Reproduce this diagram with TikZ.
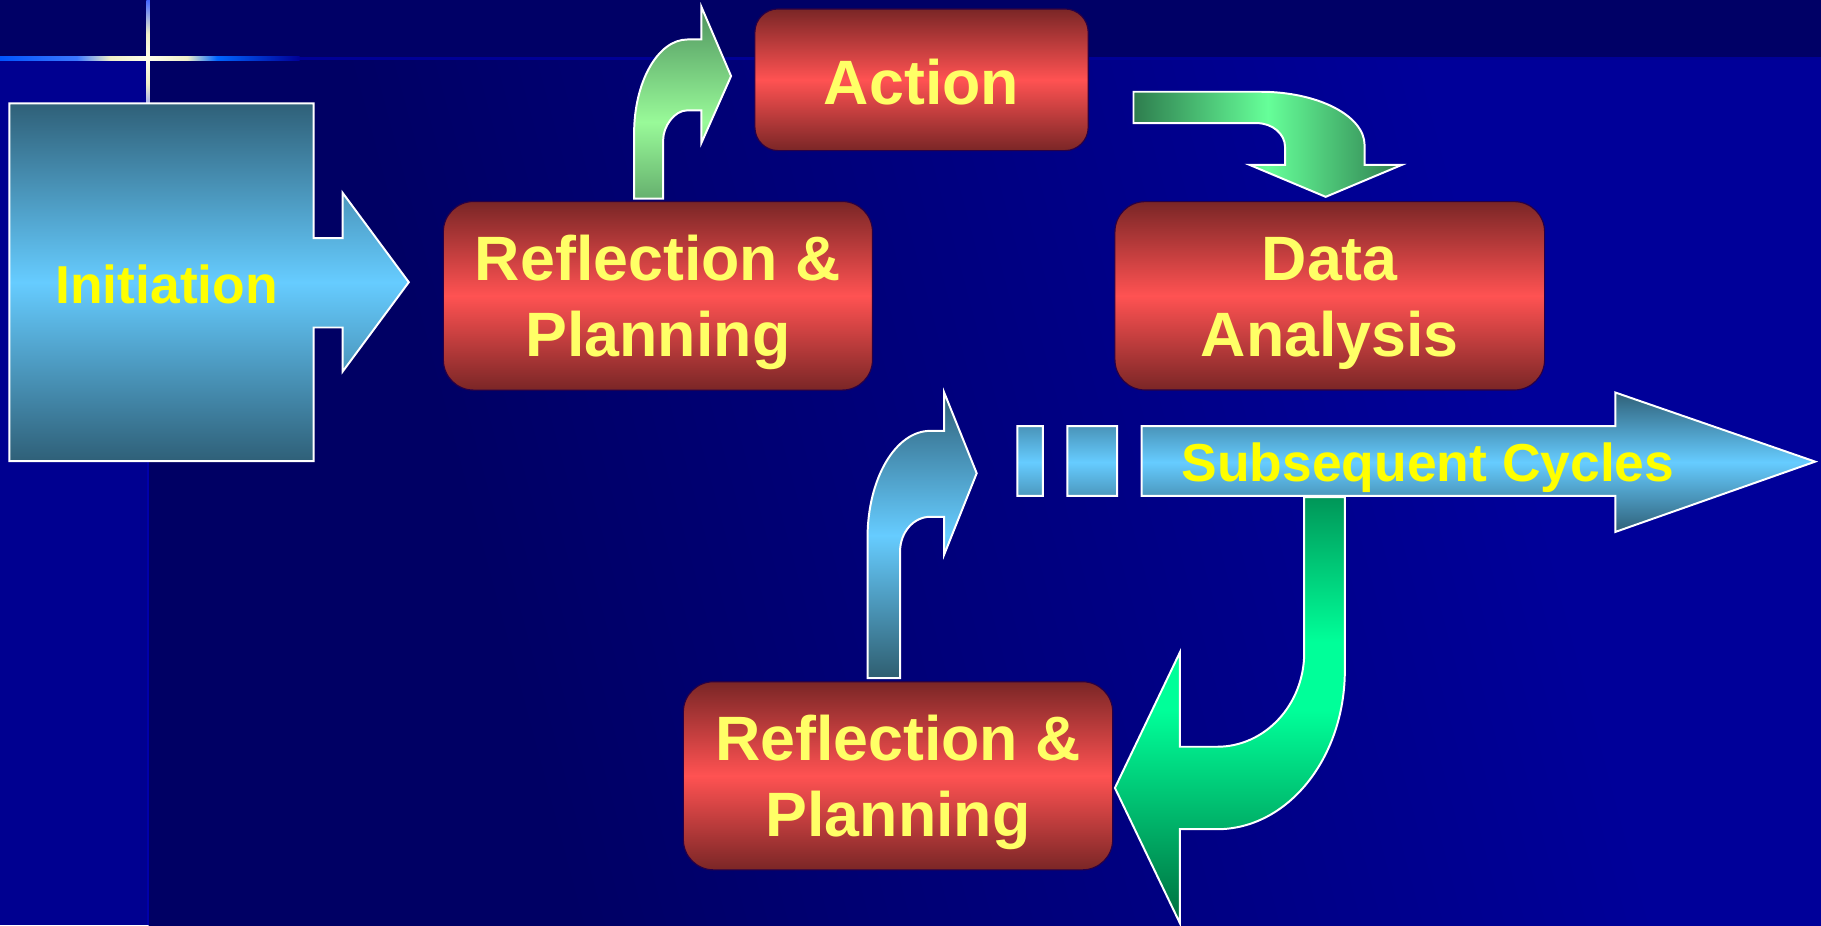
\documentclass[tikz,border=0pt]{standalone}
\usepackage{fontspec}
\setmainfont{Liberation Sans}
\usetikzlibrary{calc}
% colours
\definecolor{bgtop}{RGB}{0,0,102}
\definecolor{bgdark}{RGB}{0,0,100}
\definecolor{bgbright}{RGB}{0,0,153}
\definecolor{stripc}{RGB}{0,0,144}
\definecolor{stripline}{RGB}{0,0,170}
\definecolor{hline}{RGB}{0,0,150}
\definecolor{hg1}{RGB}{0,85,255}
\definecolor{hg1b}{RGB}{60,120,255}
\definecolor{hg2}{RGB}{255,255,235}
\definecolor{hg3}{RGB}{240,240,200}
\definecolor{hg4}{RGB}{0,102,255}
\definecolor{vg1}{RGB}{68,102,255}
\definecolor{vg2}{RGB}{255,255,235}
\definecolor{vg3}{RGB}{240,240,200}
\definecolor{vg4}{RGB}{170,176,238}
\definecolor{tealdark}{RGB}{47,96,120}
\definecolor{tealdark2}{RGB}{47,94,112}
\definecolor{lightblue}{RGB}{102,204,255}
\definecolor{rdark}{RGB}{122,38,38}
\definecolor{rbright}{RGB}{255,82,82}
\definecolor{rborder}{RGB}{40,0,70}
\definecolor{ytext}{RGB}{255,255,102}
\definecolor{ypure}{RGB}{255,255,0}
\definecolor{gtt}{RGB}{78,146,94}
\definecolor{gtm}{RGB}{153,250,153}
\definecolor{gtb}{RGB}{102,176,110}
\definecolor{gadark}{RGB}{46,125,78}
\definecolor{gabright}{RGB}{102,255,153}
\definecolor{gbt}{RGB}{0,150,88}
\definecolor{gbm}{RGB}{0,255,153}
\definecolor{gbb}{RGB}{0,110,62}
% shadings
\pgfdeclarehorizontalshading{bgsh}{100bp}{color(0bp)=(bgdark); color(33bp)=(bgdark); color(68bp)=(bgbright); color(100bp)=(bgbright)}
\pgfdeclarehorizontalshading{hglow}{100bp}{color(0bp)=(hg1); color(25bp)=(hg1); color(37.8bp)=(hg1b); color(43.4bp)=(hg3); color(49.8bp)=(hg2); color(56.2bp)=(hg3); color(61.2bp)=(hg4); color(75bp)=(hline); color(100bp)=(hline)}
\pgfdeclareverticalshading{vglow}{100bp}{color(0bp)=(vg4); color(25bp)=(vg4); color(34.6bp)=(vg3); color(47bp)=(vg2); color(58.7bp)=(vg3); color(75bp)=(vg1); color(100bp)=(vg1)}
\pgfdeclareverticalshading{gtopsh}{100bp}{color(0bp)=(gtb); color(25bp)=(gtb); color(45bp)=(gtm); color(75bp)=(gtt); color(100bp)=(gtt)}
\pgfdeclareverticalshading{gbigsh}{100bp}{color(0bp)=(gbb); color(25bp)=(gbb); color(50bp)=(gbm); color(58bp)=(gbm); color(75bp)=(gbt); color(100bp)=(gbt)}
\begin{document}
\begin{tikzpicture}[x=0.5pt,y=-0.5pt,
  redbox/.style={rectangle, rounded corners=13pt, inner sep=0pt, outer sep=0pt,
    draw=rborder, line width=0.5pt,
    top color=rdark, bottom color=rdark, middle color=rbright},
  redtext/.style={anchor=base, inner sep=0pt, text=ytext,
    font=\fontsize{27}{32}\selectfont\bfseries},
  bluetext/.style={anchor=base, inner sep=0pt, text=ypure,
    font=\fontsize{23}{28}\selectfont\bfseries},
  arrowline/.style={draw=white, line width=0.85pt, line join=miter}
]
\useasboundingbox (0,0) rectangle (1568,796.5);
% background
\fill[bgtop] (0,0) rectangle (1568,796.5);
\shade[shading=bgsh, shading angle=15] (128,52) rectangle (1568,796.5);
\fill[stripc] (0,52) rectangle (127,796.5);
\fill[stripline] (126.5,89) rectangle (128.5,796.5);
\shade[shading=hglow] (0,49) rectangle (258,52);
\fill[hline] (258,49) rectangle (1568,52);
\shade[shading=vglow] (126,0) rectangle (129,89);

% Initiation block arrow
\shadedraw[arrowline, top color=tealdark, bottom color=tealdark, middle color=lightblue]
  (8,89) -- (270,89) -- (270,205) -- (295,205) -- (295,166) -- (352,243)
  -- (295,320) -- (295,282) -- (270,282) -- (270,397) -- (8,397) -- cycle;
\node[bluetext] (init) at (143.5,261.2) {Initiation};

% green bent arrow (up to Action)
\shadedraw[arrowline, shading=gtopsh]
  (546,171) -- (546,115) .. controls (546,70.3) and (566.6,34) .. (592,34)
  -- (604,34) -- (604,6) -- (629.5,65.5) -- (604,123) -- (604,95) -- (592,95)
  .. controls (580.4,95) and (571,109.1) .. (571,120.6) -- (571,171) -- cycle;

% green curved arrow (Action to Data Analysis)
\shadedraw[arrowline, left color=gadark, right color=gadark, middle color=gabright]
  (976,79) -- (1085,79) .. controls (1134.7,79) and (1175,99.6) .. (1175,125)
  -- (1175,142) -- (1207,142) -- (1141.5,169.5) -- (1076,142) -- (1106.5,142)
  -- (1106.5,126.5) .. controls (1106.5,115.2) and (1095.5,106) .. (1082,106)
  -- (976,106) -- cycle;

% blue bent arrow (bottom Reflection up to cycles)
\shadedraw[arrowline, top color=tealdark, bottom color=tealdark2, middle color=lightblue]
  (747,584) -- (747,463) .. controls (747,412.2) and (771.2,371) .. (801,371)
  -- (813,371) -- (813,338) -- (841,407.5) -- (813,477.5) -- (813,445) -- (801,445)
  .. controls (786.6,445) and (775,458.4) .. (775,475) -- (775,584) -- cycle;

% big green arrow (down and left)
\shadedraw[arrowline, shading=gbigsh]
  (1123,428) -- (1158,428) -- (1158,577) .. controls (1158,652.7) and (1108.8,714) .. (1048,714)
  -- (1016,714) -- (1016,795) -- (960,678.5) -- (1016,561.6) -- (1016,643) -- (1048,643)
  .. controls (1089.4,643) and (1123,606.7) .. (1123,562) -- cycle;

% Subsequent Cycles arrow
\shadedraw[arrowline, top color=tealdark, bottom color=tealdark, middle color=lightblue]
  (876,367) rectangle (898,427)
  (919,367) rectangle (962,427)
  (983,367) -- (1391,367) -- (1391,338) -- (1563,397.5) -- (1391,458)
  -- (1391,427) -- (983,427) -- cycle;
\node[bluetext] (subs) at (1229.6,414.7) {Subsequent Cycles};

% red boxes
\node[redbox, rounded corners=10pt, minimum width=143.5pt, minimum height=61pt] (act) at (793.5,68.7) {};
\node[redtext] (acttxt) at ($(act.center)+(0,21)$) {Action};

\node[redbox, minimum width=184.75pt, minimum height=81.2pt] (rp1) at (566.5,254.7) {};
\node[redtext] (rp1a) at ($(rp1.center)+(0,-13)$) {Reflection \&};
\node[redtext] (rp1b) at ($(rp1.center)+(0,52.3)$) {Planning};

\node[redbox, minimum width=185pt, minimum height=81.1pt] (da) at (1145,254.7) {};
\node[redtext] (daa) at ($(da.center)+(0,-13)$) {Data};
\node[redtext] (dab) at ($(da.center)+(0,52.3)$) {Analysis};

\node[redbox, minimum width=184.85pt, minimum height=81pt] (rp2) at (773.25,668) {};
\node[redtext] (rp2a) at ($(rp2.center)+(0,-13)$) {Reflection \&};
\node[redtext] (rp2b) at ($(rp2.center)+(0,52.3)$) {Planning};
\end{tikzpicture}
\end{document}
